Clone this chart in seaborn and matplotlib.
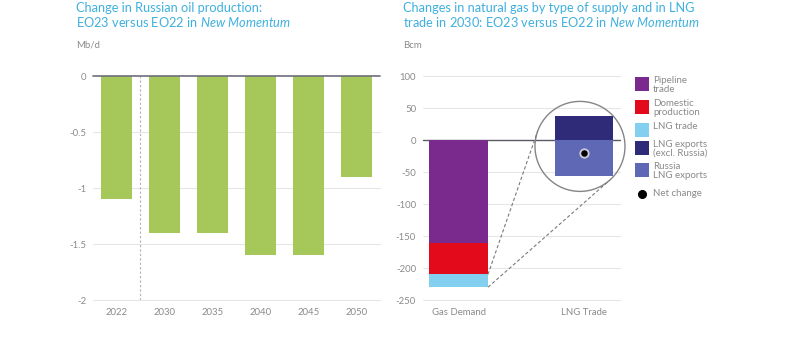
import numpy as np
import pandas as pd
import matplotlib
matplotlib.use("Agg")
import matplotlib.pyplot as plt
from matplotlib.patches import Ellipse, Rectangle
from matplotlib.lines import Line2D
import seaborn as sns

# Change in Russian oil production, EO23 vs EO22 (Mb/d)
oil_years = ["2022", "2030", "2035", "2040", "2045", "2050"]
oil_change = [-1.1, -1.4, -1.4, -1.6, -1.6, -0.9]

# Natural gas changes by type of supply and LNG trade in 2030 (Bcm)
gas_categories = ["Gas Demand", "LNG Trade"]
pipeline_trade = [-161, 0]
domestic_production = [-49, 0]
lng_trade = [-20, 0]
lng_exports_ex_russia = [0, 37]
russia_lng_exports = [0, -57]

oil_ticks = [0, -0.5, -1, -1.5, -2]
oil_tick_labels = ["0", "-0.5", "-1", "-1.5", "-2"]
gas_ticks = [100, 50, 0, -50, -100, -150, -200, -250]
gas_tick_labels = ["100", "50", "0", "-50", "-100", "-150", "-200", "-250"]

legend_labels = ["Pipeline\ntrade", "Domestic\nproduction", "LNG trade",
                 "LNG exports\n(excl. Russia)", "Russia\nLNG exports", "Net change"]

GREEN = "#a6c85b"
PURPLE = "#7a2a8c"
RED = "#e30a1c"
LIGHT_BLUE = "#82cff0"
NAVY = "#2f2b78"
SLATE = "#5f68b5"
TITLE_BLUE = "#3fb0de"
TICK_GREY = "#8a8a8a"
GRID = "#e6e6e6"

sns.set_theme(style="white")
plt.rcParams["font.family"] = ["Lato", "DejaVu Sans"]
plt.rcParams["mathtext.fontset"] = "custom"
plt.rcParams["mathtext.rm"] = "Lato"
plt.rcParams["mathtext.it"] = "Lato:italic"
plt.rcParams["axes.unicode_minus"] = False

W, H = 798, 337
fig = plt.figure(figsize=(W / 100, H / 100), dpi=100)


def box(x0, y0, x1, y1):
    """Axes rectangle from pixel edges (origin top-left)."""
    return [x0 / W, 1 - y1 / H, (x1 - x0) / W, (y1 - y0) / H]


def fx(x):
    return x / W


def fy(y):
    return 1 - y / H


ax1 = fig.add_axes(box(93, 76, 380, 300))
ax2 = fig.add_axes(box(423, 76, 620, 300))

# ---- Left panel: oil production ----
oil_df = pd.DataFrame({"year": oil_years, "change": oil_change})
sns.barplot(data=oil_df, x="year", y="change", color=GREEN, saturation=1,
            width=0.64, linewidth=0, ax=ax1, zorder=3)
ax1.set_xlim(-0.48, len(oil_years) - 1 + 0.48)
ax1.set_ylim(min(oil_ticks), max(oil_ticks))
ax1.set_yticks(oil_ticks)
ax1.set_yticklabels(oil_tick_labels)
for t in oil_ticks:
    if t != 0:
        ax1.axhline(t, color=GRID, lw=0.8, zorder=1, clip_on=False)
ax1.axhline(0, color="#6e6e7a", lw=1.2, zorder=4, clip_on=False)
# separator between history and projections
ax1.axvline(0.5, color="#b0b0b0", lw=0.8, ls=(0, (2, 2)), zorder=2)

# ---- Right panel: natural gas ----
gas_layers_neg = [(pipeline_trade, PURPLE), (domestic_production, RED), (lng_trade, LIGHT_BLUE)]
bottom = np.zeros(len(gas_categories))
for vals, col in gas_layers_neg:
    sns.barplot(x=gas_categories, y=vals, color=col, saturation=1, width=0.47,
                bottom=bottom.copy(), linewidth=0, ax=ax2, zorder=3)
    bottom += np.array(vals, dtype=float)
sns.barplot(x=gas_categories, y=lng_exports_ex_russia, color=NAVY, saturation=1,
            width=0.47, linewidth=0, ax=ax2, zorder=3)
sns.barplot(x=gas_categories, y=russia_lng_exports, color=SLATE, saturation=1,
            width=0.47, linewidth=0, ax=ax2, zorder=3)

ax2.set_xlim(-0.283, 1.287)
ax2.set_ylim(min(gas_ticks), max(gas_ticks))
ax2.set_yticks(gas_ticks)
ax2.set_yticklabels(gas_tick_labels)
for t in gas_ticks:
    if t != 0:
        ax2.axhline(t, color=GRID, lw=0.8, zorder=1, clip_on=False)
ax2.axhline(0, color="#5a5a62", lw=1.0, zorder=2, clip_on=False)

lng_idx = gas_categories.index("LNG Trade")
net_change = lng_exports_ex_russia[lng_idx] + russia_lng_exports[lng_idx]
ax2.scatter([lng_idx], [net_change], s=55, color="#c9c9d8", zorder=6, linewidths=0)
ax2.scatter([lng_idx], [net_change], s=22, color="black", zorder=7, linewidths=0)

for ax in (ax1, ax2):
    sns.despine(ax=ax, left=True, bottom=True)
    ax.set_xlabel("")
    ax.set_ylabel("")
    ax.tick_params(axis="both", length=0, labelsize=6.9, colors=TICK_GREY)
    ax.tick_params(axis="y", pad=5)
    ax.tick_params(axis="x", pad=6)

# ---- Magnifier circle around the LNG Trade bar ----
fig.canvas.draw()
sx = ax2.bbox.width / np.diff(ax2.get_xlim())[0]
sy = ax2.bbox.height / np.diff(ax2.get_ylim())[0]
r_px = 45
cy_data = (lng_exports_ex_russia[lng_idx] + russia_lng_exports[lng_idx]) / 2
cx_data = lng_idx - 4 / sx
ax2.add_patch(Ellipse((cx_data, cy_data), 2 * r_px / sx, 2 * r_px / sy,
                      fill=False, edgecolor="#858585", lw=1.0, zorder=8, clip_on=False))

center_disp = ax2.transData.transform((cx_data, cy_data))
gd_idx = gas_categories.index("Gas Demand")
bar_right = gd_idx + 0.47 / 2
corner_top = pipeline_trade[gd_idx] + domestic_production[gd_idx]
corner_bottom = corner_top + lng_trade[gd_idx]


def tangent_point(p_data, upper):
    p = ax2.transData.transform(p_data)
    d = p - center_disp
    dist = np.hypot(*d)
    base = np.arctan2(d[1], d[0])
    off = np.arccos(r_px / dist)
    cands = [center_disp + r_px * np.array([np.cos(base + s * off), np.sin(base + s * off)])
             for s in (1, -1)]
    cands.sort(key=lambda c: c[1])
    pick = cands[1] if upper else cands[0]
    return ax2.transData.inverted().transform(pick)


for corner, upper in ((corner_top, True), (corner_bottom, False)):
    tp = tangent_point((bar_right, corner), upper)
    ax2.plot([bar_right, tp[0]], [corner, tp[1]], color="#7a7a7a", lw=0.8,
             ls=(0, (3, 2)), zorder=8, clip_on=False)

# ---- Legend ----
legend_colors = [PURPLE, RED, LIGHT_BLUE, NAVY, SLATE]
patch_tops = [77, 100, 123, 141, 163]
for lab, col, top in zip(legend_labels[:5], legend_colors, patch_tops):
    fig.add_artist(Rectangle((fx(635), fy(top + 13.5)), 14 / W, 13.5 / H,
                             transform=fig.transFigure, color=col, lw=0))
    fig.text(fx(653), fy(top - 1), lab, ha="left", va="top", fontsize=7.0,
             color="#8a8a8a", linespacing=1.0)
fig.add_artist(Line2D([fx(642)], [fy(194)], marker="o", markersize=5.5,
                      color="black", transform=fig.transFigure, lw=0))
fig.text(fx(653), fy(194), legend_labels[5], ha="left", va="center",
         fontsize=7.0, color="#8a8a8a")

# ---- Titles and units ----
fig.text(fx(76), fy(2), "Change in Russian oil production:\nEO23 versus EO22 in $\\mathit{New\\ Momentum}$",
         ha="left", va="top", fontsize=9.2, color=TITLE_BLUE, linespacing=1.1)
fig.text(fx(403), fy(2), "Changes in natural gas by type of supply and in LNG\n"
         "trade in 2030: EO23 versus EO22 in $\\mathit{New\\ Momentum}$",
         ha="left", va="top", fontsize=9.2, color=TITLE_BLUE, linespacing=1.1)
fig.text(fx(76), fy(45), "Mb/d", ha="left", va="center", fontsize=6.9, color=TICK_GREY)
fig.text(fx(403), fy(46), "Bcm", ha="left", va="center", fontsize=6.9, color=TICK_GREY)

fig.savefig("out.png", dpi=100, facecolor="white")
